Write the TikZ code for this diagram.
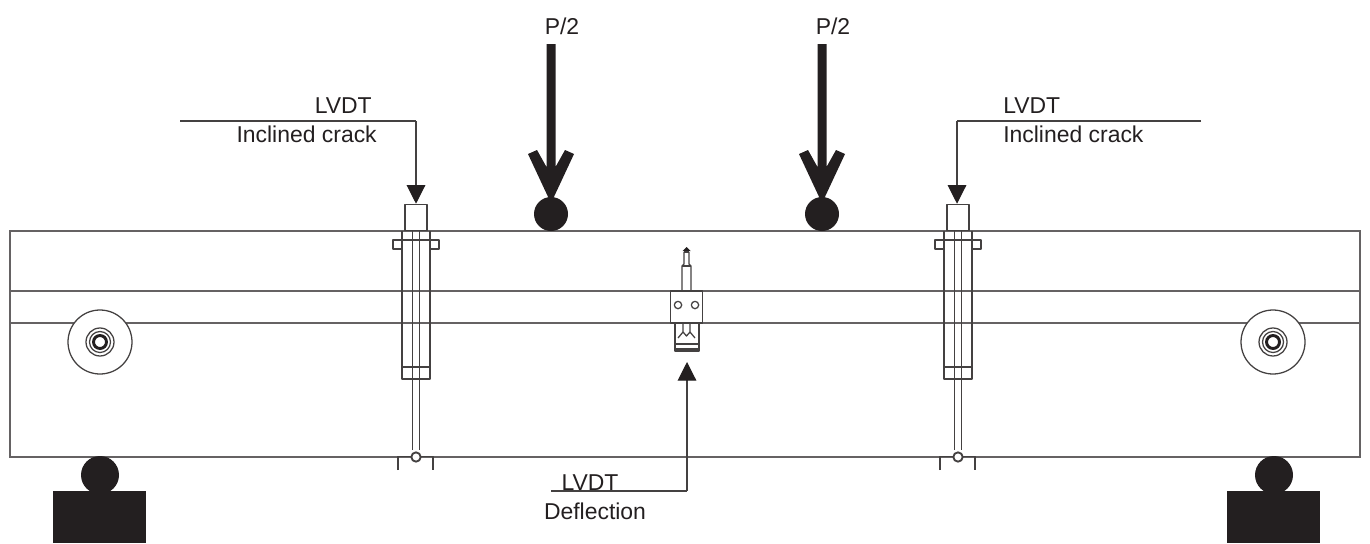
\documentclass[tikz,border=0pt]{standalone}
\usepackage{fontspec}
\setmainfont{Liberation Sans}
\usetikzlibrary{arrows.meta}
\definecolor{ink}{HTML}{231F20}
\tikzset{
  thin line/.style={draw=ink!85,line width=0.95pt,line join=round},
  beam line/.style={draw=ink!70,line width=1.1pt},
  lab/.style={inner sep=0pt,font=\fontsize{17.2pt}{20pt}\selectfont,text=ink},
  solid ink/.style={fill=ink,draw=none},
  leader/.style={draw=ink!85,line width=0.85pt,-{Triangle[length=14pt,width=14pt,fill=ink,color=ink]}},
  plain leader/.style={draw=ink!85,line width=0.85pt},
}
\newcommand{\lvdtgauge}[2]{%
\begin{scope}[shift={(#1,0)}]
  \node[thin line,fill=white,minimum width=16.5pt,minimum height=19.5pt,inner sep=0pt,anchor=south] (#2top) at (0,231) {};
  \draw[thin line] (-14,231) -- (-14,379) -- (14,379) -- (14,231);
  \draw[thin line] (-3.5,231) -- (-3.5,450) (3.5,231) -- (3.5,450);
  \draw[thin line] (-14,367) -- (14,367);
  \draw[thin line] (-14,240) -- (-23,240) -- (-23,249) -- (-14,249);
  \draw[thin line] (14,240) -- (23,240) -- (23,249) -- (14,249);
  \draw[thin line] (-14,240) -- (14,240);
  \draw[thin line,line width=1.2pt] (-18,470) -- (-18,456.5) -- (17,456.5) -- (17,470);
  \node[thin line,line width=1.4pt,fill=white,circle,minimum size=7pt,inner sep=0pt] (#2foot) at (0,457) {};
\end{scope}}
\newcommand{\roller}[3]{%
  \node[thin line,fill=white,circle,minimum size=48pt,inner sep=0pt] (#3) at (#1,#2) {};
  \draw[thin line] (#1,#2) circle (14);
  \draw[thin line] (#1,#2) circle (10.5);
  \draw[draw=ink,line width=2.2pt] (#1,#2) circle (6.5);
}
\newcommand{\load}[3]{%
  \node[circle,solid ink,minimum size=25.5pt,inner sep=0pt] (#3ball) at (#1,214) {};
  \begin{scope}[shift={(#1,0)}]
  \fill[ink] (-4.5,44) -- (4.5,44) -- (4.5,167) -- (14,150) -- (23,154) -- (1.5,200) -- (-1.5,200) -- (-23,154) -- (-14,150) -- (-4.5,167) -- cycle;
  \end{scope}
  \node[lab] (#3lab) at (#2,26) {P/2};
}
\newcommand{\support}[3]{%
  \node[circle,solid ink,minimum size=28.5pt,inner sep=0pt] (#3ball) at (#1,475) {};
  \fill[ink] (#2-46.5,491) rectangle (#2+46.5,543);
}
\begin{document}
\begin{tikzpicture}[x=0.75pt,y=-0.75pt]
\useasboundingbox (0,0) rectangle (1370,543);
% beam
\draw[beam line] (10,231) rectangle (1360,457);
\draw[beam line] (10,291) -- (1360,291) (10,323) -- (1360,323);
% rollers
\roller{100}{342}{rollerL}
\roller{1273}{342}{rollerR}
% supports
\support{100}{99.5}{supL}
\support{1274}{1273.5}{supR}
% gauges
\lvdtgauge{416}{gaugeL}
\lvdtgauge{958}{gaugeR}
% loads
\load{551}{562}{loadL}
\load{822}{833}{loadR}
% central deflection gauge
\node[thin line,fill=white,minimum width=23.5pt,minimum height=24pt,inner sep=0pt] (dial) at (686.5,307) {};
\node[thin line,circle,minimum size=5.5pt,inner sep=0pt] (holeL) at (678,305) {};
\node[thin line,circle,minimum size=5.5pt,inner sep=0pt] (holeR) at (695,305) {};
\draw[thin line] (682,291) -- (682,266) -- (684,264) -- (684,252) (691,291) -- (691,266) -- (689,264) -- (689,252);
\draw[thin line] (684,252) -- (689,252) (682,266) -- (691,266);
\fill[ink] (682.5,251) -- (686.5,247) -- (690.5,251) -- cycle;
\draw[thin line] (675,323) -- (675,351) -- (699,351) -- (699,323);
\draw[thin line] (683,323) -- (683,332) -- (686.5,336) -- (690,332) -- (690,323);
\draw[thin line] (683,332) -- (678,338) (690,332) -- (695,338);
\draw[thin line,line width=1.8pt] (675,349) -- (699,349);
\draw[thin line] (675,344) -- (699,344);
% labels
\node[lab,anchor=east] (lvdtA) at (372,106) {LVDT};
\node[lab,anchor=east] (crackA) at (377,134) {Inclined crack};
\node[lab,anchor=west] (lvdtB) at (1003,106) {LVDT};
\node[lab,anchor=west] (crackB) at (1003,134) {Inclined crack};
\node[lab] (lvdtC) at (590,483) {LVDT};
\node[lab] (deflC) at (595,511) {Deflection};
% leaders
\coordinate (leadA) at (180,121);
\coordinate (cornerA) at (416,121);
\coordinate (leadB) at (1201,121);
\coordinate (cornerB) at (957,121);
\coordinate (leadC) at (551,491);
\coordinate (cornerC) at (687,491);
\coordinate (tipC) at (687,362);
\draw[plain leader] (leadA) -- (cornerA);
\draw[leader] (cornerA) -- (gaugeLtop.north);
\draw[plain leader] (leadB) -- (cornerB);
\draw[leader] (cornerB) -- (gaugeRtop.north-|cornerB);
\draw[plain leader] (leadC) -- (cornerC);
\draw[leader] (cornerC) -- (tipC);
\end{tikzpicture}
\end{document}
